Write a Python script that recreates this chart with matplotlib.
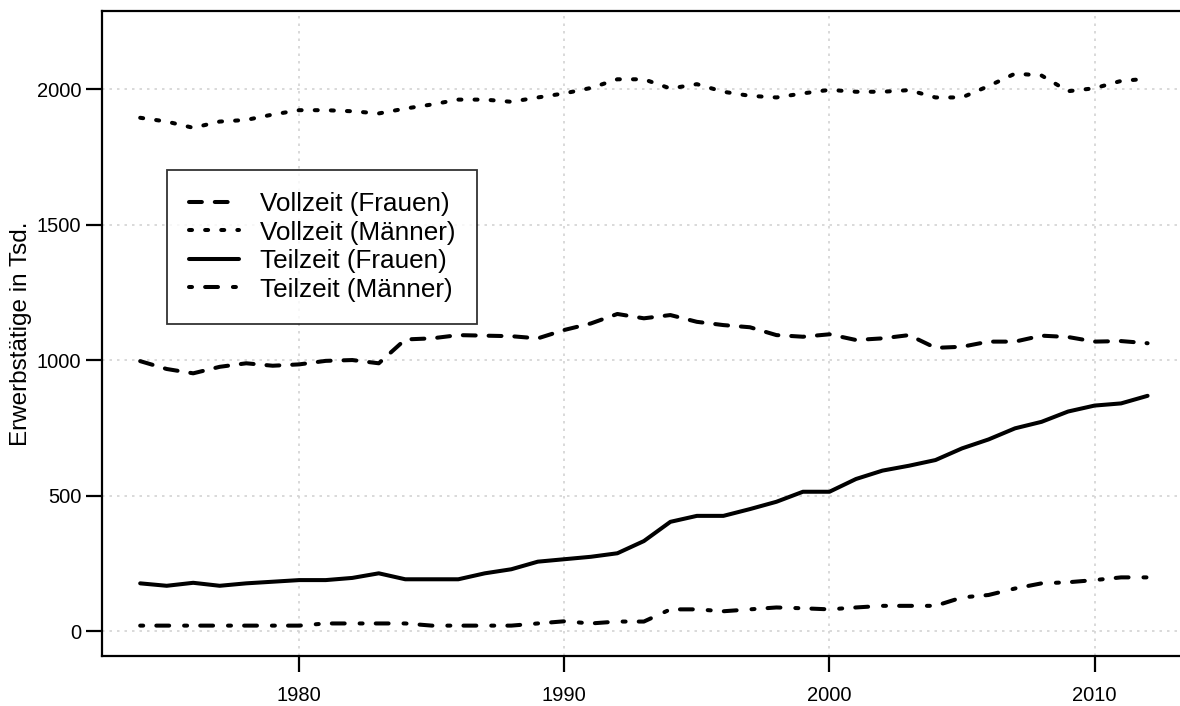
import matplotlib
matplotlib.use("Agg")
import matplotlib.pyplot as plt

plt.rcParams["font.family"] = ["Liberation Sans", "DejaVu Sans"]

years = list(range(1974, 2013))

vollzeit_frauen = [996, 967, 951, 975, 988, 979, 984, 997, 1000, 988,
                   1076, 1080, 1092, 1090, 1088, 1080, 1111, 1135, 1170, 1154,
                   1166, 1141, 1129, 1121, 1092, 1086, 1095, 1074, 1080, 1092,
                   1045, 1049, 1068, 1068, 1090, 1085, 1068, 1070, 1062]
vollzeit_maenner = [1894, 1880, 1857, 1880, 1886, 1906, 1922, 1922, 1918, 1910,
                    1928, 1943, 1961, 1961, 1953, 1969, 1984, 2004, 2036, 2036,
                    2002, 2018, 1990, 1975, 1969, 1984, 1997, 1990, 1990, 1996,
                    1969, 1969, 2011, 2057, 2050, 1992, 2003, 2030, 2038]
teilzeit_frauen = [176, 167, 178, 167, 176, 182, 188, 188, 196, 213,
                   191, 191, 191, 213, 228, 256, 265, 274, 287, 332,
                   403, 425, 425, 450, 477, 514, 514, 561, 592, 610,
                   631, 674, 707, 748, 772, 810, 832, 840, 868]
teilzeit_maenner = [20, 20, 20, 20, 20, 20, 20, 28, 28, 28,
                    28, 20, 20, 20, 20, 28, 36, 28, 35, 35,
                    80, 80, 73, 80, 87, 84, 80, 87, 93, 93,
                    93, 124, 133, 157, 176, 180, 188, 198, 198]

labels = ["Vollzeit (Frauen)", "Vollzeit (Männer)",
          "Teilzeit (Frauen)", "Teilzeit (Männer)"]

fig = plt.figure(figsize=(11.8, 7.06), dpi=100)
ax = fig.add_axes([102 / 1180, 50.3 / 706, 1088 / 1180, 644.7 / 706])

lw = 2.9
ax.plot(years, vollzeit_frauen, color="black", lw=lw, dashes=(3.2, 3.2),
        dash_capstyle="round", label=labels[0])
ax.plot(years, vollzeit_maenner, color="black", lw=lw, dashes=(0.75, 3.25),
        dash_capstyle="round", label=labels[1])
ax.plot(years, teilzeit_frauen, color="black", lw=lw, solid_capstyle="round",
        solid_joinstyle="round", label=labels[2])
ax.plot(years, teilzeit_maenner, color="black", lw=lw,
        dashes=(0.75, 3.25, 3.2, 3.7), dash_capstyle="round", label=labels[3])

ax.set_xlim(1972.56, 2013.6)
ax.set_ylim(-91, 2288)
ax.set_xticks([1980, 1990, 2000, 2010])
ax.set_yticks([0, 500, 1000, 1500, 2000])
ax.grid(True, color="lightgray", linestyle=(0, (1.5, 3)), linewidth=1.2)
ax.set_axisbelow(True)

for s in ax.spines.values():
    s.set_linewidth(1.6)
ax.spines["right"].set_visible(False)
ax.tick_params(direction="out", length=11.5, width=1.6, labelsize=14.5)
ax.tick_params(axis="x", pad=10)
ax.tick_params(axis="y", pad=3.5)
ax.set_ylabel("Erwerbstätige in Tsd.", fontsize=17.5, labelpad=3)

leg = ax.legend(loc="upper left", bbox_to_anchor=(65 / 1088, 1 - 159 / 644.7),
                fontsize=18.8, frameon=True, fancybox=False, handlelength=1.9,
                handletextpad=0.8, labelspacing=0.17, borderpad=0.85,
                borderaxespad=0)
leg.get_frame().set_edgecolor("black")
leg.get_frame().set_linewidth(1.3)

fig.savefig("out.png", dpi=100)
